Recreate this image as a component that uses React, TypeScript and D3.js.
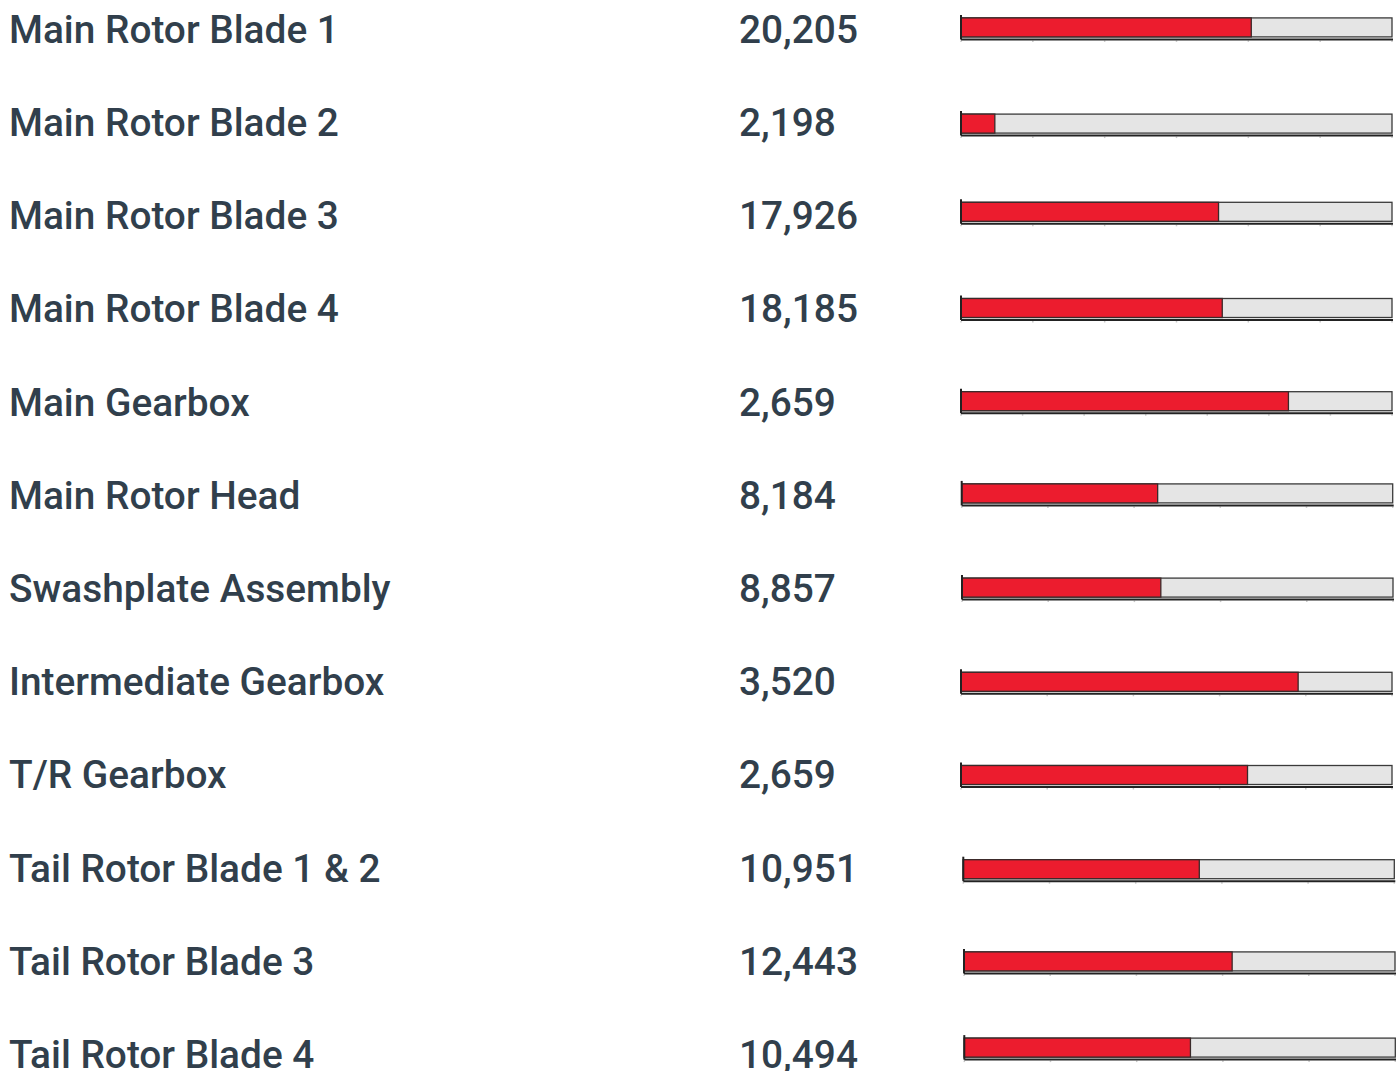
import React from "react";
import * as d3 from "d3";

// component names, current hours, life limit and axis tick intervals per row
const components = [
  "Main Rotor Blade 1",
  "Main Rotor Blade 2",
  "Main Rotor Blade 3",
  "Main Rotor Blade 4",
  "Main Gearbox",
  "Main Rotor Head",
  "Swashplate Assembly",
  "Intermediate Gearbox",
  "T/R Gearbox",
  "Tail Rotor Blade 1 & 2",
  "Tail Rotor Blade 3",
  "Tail Rotor Blade 4",
];
const hours = [20205, 2198, 17926, 18185, 2659, 8184, 8857, 3520, 2659, 10951, 12443, 10494];
const limits = [30000, 28000, 30000, 30000, 3500, 18000, 19200, 4500, 4000, 20000, 20000, 20000];
const tickIntervals = [6, 6, 6, 6, 7, 5, 5, 5, 5, 5, 5, 5];

// small per-row nudges of the bar block (layout only)
const barDx = [0, 0, 0, 0, 0, 0.7, 1, 0, 0, 2.3, 3, 3.3];
const barDy = [-1, 2, -3, 0, 0, -1, 0, 1, 1, 2, 1, -6];

const W = 1396;
const H = 1071;
const TEXT = "#313f4c";
const barLeft = 961;
const barWidth = 431;
const barHeight = 19;

export default function App() {
  const fmt = d3.format(",");
  // baseline of each row
  const yRow = d3
    .scaleLinear()
    .domain([0, components.length - 1])
    .range([42.7, 42.7 + 93.2 * (components.length - 1)]);

  return (
    <svg
      width={W}
      height={H}
      style={{ position: "absolute", left: 0, top: 0, background: "#fff" }}
      fontFamily="Roboto, 'Noto Sans', sans-serif"
    >
      {components.map((name, i) => {
        const base = yRow(i);
        const x = d3.scaleLinear().domain([0, limits[i]]).range([0, barWidth]);
        const ticks = d3.range(tickIntervals[i] + 1).map((k) => (limits[i] * k) / tickIntervals[i]);
        const top = base - 14.3 - barHeight / 2 + barDy[i];
        const axisY = top + barHeight + 2.5;
        return (
          <g key={name}>
            <text x={9} y={base} fontSize={38.8} fontWeight={500} fill={TEXT}>
              {name}
            </text>
            <text x={739} y={base} fontSize={38.8} fontWeight={500} fill={TEXT}>
              {fmt(hours[i])}
            </text>
            <g transform={`translate(${barLeft + barDx[i]},0)`}>
              {/* ticks */}
              {ticks.map((t) => (
                <line
                  key={t}
                  x1={x(t)}
                  x2={x(t)}
                  y1={axisY + 1}
                  y2={axisY + 2.5}
                  stroke="#c8c8c8"
                  strokeWidth={1.5}
                />
              ))}
              {/* track */}
              <rect
                x={0}
                y={top}
                width={barWidth}
                height={barHeight}
                fill="#e5e5e5"
                stroke="#3a3a3a"
                strokeWidth={1.3}
              />
              {/* used hours */}
              <rect
                x={0}
                y={top}
                width={x(hours[i])}
                height={barHeight}
                fill="#ec1c2e"
                stroke="#3a2a2a"
                strokeWidth={1.3}
              />
              {/* axes */}
              <line x1={0} x2={barWidth + 1} y1={axisY} y2={axisY} stroke="#222" strokeWidth={2} />
              <line x1={0} x2={0} y1={top - 3} y2={axisY} stroke="#222" strokeWidth={2} />
            </g>
          </g>
        );
      })}
    </svg>
  );
}
